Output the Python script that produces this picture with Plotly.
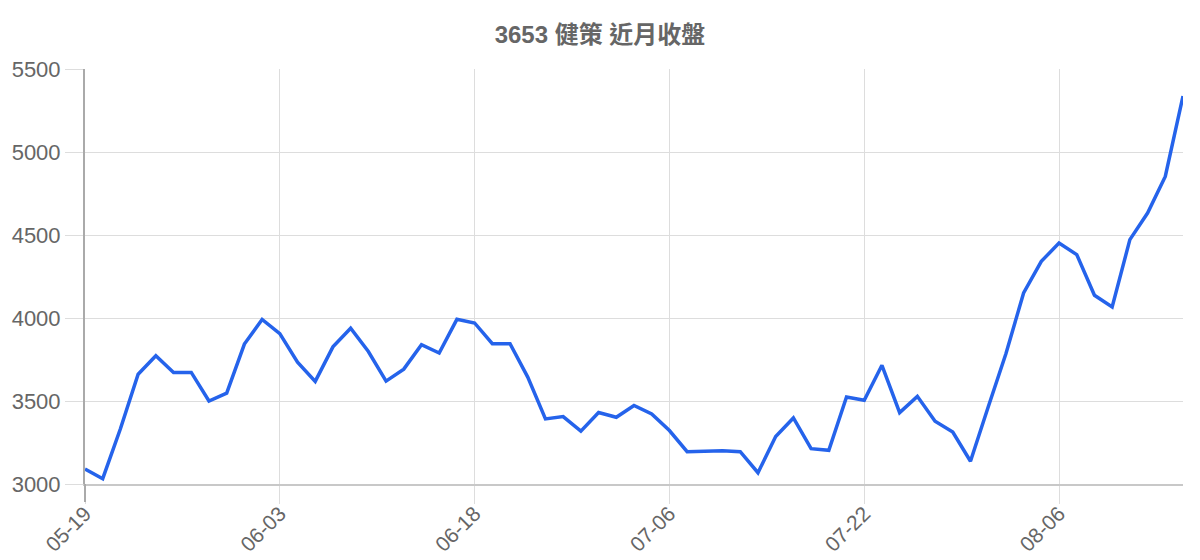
import plotly.graph_objects as go

dates = [
    "05-19", "05-20", "05-21", "05-22", "05-23", "05-26", "05-27", "05-28", "05-29", "05-30",
    "06-02", "06-03", "06-04", "06-05", "06-06", "06-09", "06-10", "06-11", "06-12", "06-15",
    "06-16", "06-17", "06-18", "06-19", "06-22", "06-23", "06-24", "06-25", "06-29", "06-30",
    "07-01", "07-02", "07-03", "07-06", "07-07", "07-08", "07-09", "07-10", "07-13", "07-14",
    "07-15", "07-16", "07-17", "07-20", "07-22", "07-23", "07-24", "07-27", "07-28", "07-29",
    "07-30", "07-31", "08-03", "08-04", "08-05", "08-06", "08-07", "08-10", "08-11", "08-12",
    "08-13", "08-14", "08-17",
]

close = [
    3090, 3032, 3333, 3661, 3773, 3672, 3672, 3500, 3547, 3843,
    3991, 3906, 3734, 3618, 3826, 3938, 3798, 3620, 3692, 3839,
    3789, 3992, 3970, 3845, 3845, 3644, 3392, 3406, 3318, 3431,
    3402, 3473, 3422, 3322, 3195, 3197, 3201, 3195, 3068, 3286,
    3398, 3213, 3203, 3524, 3504, 3715, 3430, 3528, 3378, 3313,
    3137, 3464, 3785, 4151, 4341, 4452, 4382, 4137, 4066, 4472,
    4632, 4853, 5337,
]

tick_labels = ["05-19", "06-03", "06-18", "07-06", "07-22", "08-06"]
y_ticks = [3000, 3500, 4000, 4500, 5000, 5500]

title_text = "3653 健策 近月收盤"

W, H = 1192, 552
ML, MR, MT, MB = 77, 17, 61, 76

fig = go.Figure()
fig.add_trace(go.Scatter(
    x=dates, y=close, mode="lines",
    line=dict(color="#2563eb", width=3.5),
    hoverinfo="x+y",
))

font_family = "Liberation Sans, Arial, Noto Sans CJK TC, sans-serif"
plot_h = H - MT - MB

fig.update_layout(
    width=W, height=H,
    margin=dict(l=ML, r=MR, t=MT, b=MB, autoexpand=False),
    paper_bgcolor="white", plot_bgcolor="white",
    showlegend=False,
    title=dict(
        text="<b>" + title_text + "</b>",
        xref="container", x=592 / W, xanchor="center",
        yref="container", y=1 - 27 / H, yanchor="middle",
        font=dict(family="Liberation Sans, Noto Sans CJK TC, sans-serif", size=24, color="#666666"),
    ),
    font=dict(family=font_family, color="#666666"),
    shapes=[dict(
        type="line", xref="paper", yref="paper",
        x0=0, x1=0, y0=0, y1=-18 / plot_h,
        line=dict(color="#aaaaaa", width=2),
    )],
)

fig.update_xaxes(
    type="category",
    categoryorder="array", categoryarray=dates,
    range=[0, len(dates) - 1],
    tickmode="array", tickvals=tick_labels, ticktext=tick_labels,
    tickangle=-45,
    tickfont=dict(size=21, color="#666666"),
    ticklabelstandoff=-11,
    showgrid=True, gridcolor="#dddddd", gridwidth=1,
    ticks="outside", ticklen=18, tickcolor="#dddddd",
    showline=True, linecolor="#c8c8c8", linewidth=2,
    zeroline=False, automargin=False,
)

fig.update_yaxes(
    range=[3000, 5500],
    tickmode="array", tickvals=y_ticks,
    tickfont=dict(size=22, color="#666666"),
    showgrid=True, gridcolor="#dddddd", gridwidth=1,
    ticks="outside", ticklen=18, tickcolor="#dddddd",
    showline=True, linecolor="#aaaaaa", linewidth=2,
    zeroline=False, automargin=False,
)

fig.write_html("out.html")
